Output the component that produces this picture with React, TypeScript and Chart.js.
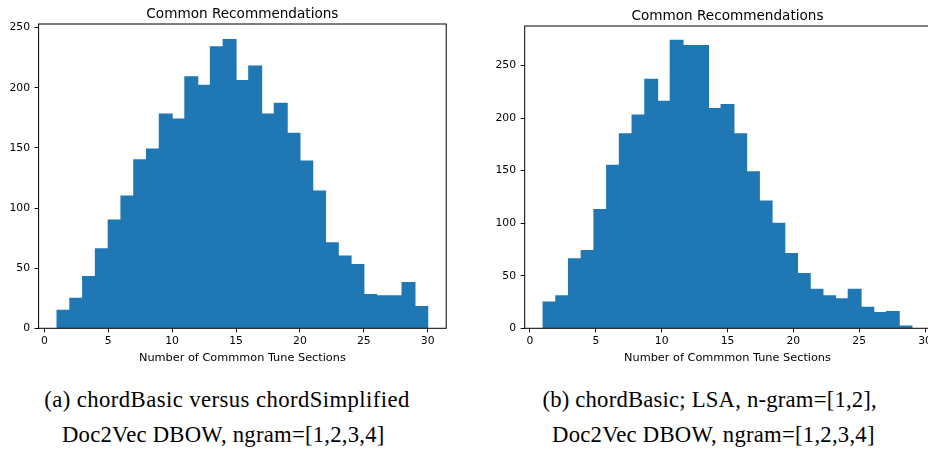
import React, { useEffect, useRef } from "react";
import { Chart, registerables } from "chart.js";

Chart.register(...registerables);

const chartTitle = "Common Recommendations";
const xAxisLabel = "Number of Commmon Tune Sections";
const xTickValues = [0, 5, 10, 15, 20, 25, 30];
const yTickValues = [0, 50, 100, 150, 200, 250];

// (a) 29 equal-width bins spanning 1..30
const binStartA = 1;
const binEndA = 30;
const countsA = [
  15, 25, 43, 66, 90, 110, 140, 149, 178, 174,
  209, 202, 234, 240, 206, 218, 178, 187, 162, 139,
  114, 71, 60, 53, 28, 27, 27, 38, 18,
];

// (b) 29 equal-width bins spanning 1..29
const binStartB = 1;
const binEndB = 29;
const countsB = [
  25, 31, 66, 74, 113, 155, 185, 203, 237, 216,
  274, 269, 269, 209, 213, 185, 149, 121, 100, 71,
  52, 37, 31, 28, 37, 20, 15, 16, 2,
];

const captionA = ["(a) chordBasic versus chordSimplified", "Doc2Vec DBOW, ngram=[1,2,3,4]"];
const captionB = ["(b) chordBasic; LSA, n-gram=[1,2],", "Doc2Vec DBOW, ngram=[1,2,3,4]"];

const BAR_COLOR = "#1f77b4";
const SANS = '"DejaVu Sans", sans-serif';
const CANVAS_H = 370;

type Rect = { l: number; t: number; r: number; b: number };

type HistProps = {
  counts: number[];
  binStart: number;
  binEnd: number;
  xMin: number;
  xMax: number;
  yMax: number;
  canvasLeft: number;
  canvasWidth: number;
  plot: Rect;
  titleOffset: number;
};

function Histogram(p: HistProps) {
  const ref = useRef<HTMLCanvasElement>(null);

  useEffect(() => {
    const canvas = ref.current;
    if (!canvas) return;
    const binWidth = (p.binEnd - p.binStart) / p.counts.length;
    const points = p.counts.map((c, i) => ({ x: p.binStart + (i + 0.5) * binWidth, y: c }));

    // axes box, title and x-axis caption
    const decorations = {
      id: "decorations",
      afterDraw(chart: any) {
        const { ctx, chartArea: a } = chart;
        ctx.save();
        ctx.strokeStyle = "#000";
        ctx.lineWidth = 1;
        ctx.strokeRect(a.left, a.top, a.right - a.left, a.bottom - a.top);
        ctx.fillStyle = "#000";
        ctx.textAlign = "center";
        ctx.textBaseline = "alphabetic";
        const cx = (a.left + a.right) / 2;
        ctx.font = `13.6px ${SANS}`;
        ctx.fillText(chartTitle, cx, a.top - p.titleOffset);
        ctx.font = `11.3px ${SANS}`;
        ctx.fillText(xAxisLabel, cx, a.bottom + 32.4);
        ctx.restore();
      },
    };

    const tickFont = { family: SANS, size: 10.8 };
    const chart = new Chart(canvas, {
      type: "bar",
      data: {
        datasets: [
          {
            data: points as any,
            backgroundColor: BAR_COLOR,
            borderWidth: 0,
            barPercentage: 1,
            categoryPercentage: 1,
            grouped: false,
            inflateAmount: 0.6,
          },
        ],
      },
      options: {
        responsive: false,
        animation: false,
        devicePixelRatio: 1,
        layout: {
          padding: {
            top: p.plot.t,
            right: p.canvasLeft + p.canvasWidth - p.plot.r,
            bottom: 0,
            left: 0,
          },
        },
        plugins: {
          legend: { display: false },
          tooltip: { enabled: false },
          title: { display: false },
        },
        scales: {
          x: {
            type: "linear",
            min: p.xMin,
            max: p.xMax,
            offset: false,
            grid: {
              display: true,
              offset: false,
              drawOnChartArea: false,
              drawTicks: true,
              tickLength: 4,
              tickColor: "#000",
              tickWidth: 1,
            },
            border: { display: false },
            ticks: {
              font: tickFont,
              color: "#000",
              padding: 2.7,
              maxRotation: 0,
              autoSkip: false,
              includeBounds: false,
            },
            afterBuildTicks: (scale: any) => {
              scale.ticks = xTickValues.map((v) => ({ value: v }));
            },
            afterFit: (scale: any) => {
              scale.height = CANVAS_H - p.plot.b;
            },
          },
          y: {
            type: "linear",
            min: 0,
            max: p.yMax,
            grid: {
              display: true,
              drawOnChartArea: false,
              drawTicks: true,
              tickLength: 4,
              tickColor: "#000",
              tickWidth: 1,
            },
            border: { display: false },
            ticks: {
              font: tickFont,
              color: "#000",
              padding: 4.6,
              includeBounds: false,
            },
            afterBuildTicks: (scale: any) => {
              scale.ticks = yTickValues.map((v) => ({ value: v }));
            },
            afterFit: (scale: any) => {
              scale.width = p.plot.l - p.canvasLeft;
            },
          },
        },
      } as any,
      plugins: [decorations],
    });

    return () => chart.destroy();
  }, []);

  return (
    <canvas
      ref={ref}
      width={p.canvasWidth}
      height={CANVAS_H}
      style={{ position: "absolute", left: p.canvasLeft, top: 0, width: p.canvasWidth, height: CANVAS_H }}
    />
  );
}

const CAPTION_SIZE = 22.7;

function CaptionLine({ text, center, baseline, spacing = 0 }: { text: string; center: number; baseline: number; spacing?: number }) {
  return (
    <div
      style={{
        position: "absolute",
        left: center - 300,
        width: 600,
        top: baseline - CAPTION_SIZE * 0.8375,
        textAlign: "center",
        whiteSpace: "nowrap",
        fontFamily: '"Liberation Serif", "Times New Roman", serif',
        fontSize: CAPTION_SIZE,
        lineHeight: 1,
        letterSpacing: spacing,
        color: "#000",
      }}
    >
      {text}
    </div>
  );
}

export default function App() {
  return (
    <div
      style={{
        position: "fixed",
        left: 0,
        top: 0,
        width: 928,
        height: 452,
        overflow: "hidden",
        background: "#fff",
      }}
    >
      <Histogram
        counts={countsA}
        binStart={binStartA}
        binEnd={binEndA}
        xMin={-0.45}
        xMax={31.45}
        yMax={253}
        canvasLeft={0}
        canvasWidth={460}
        plot={{ l: 38.6, t: 24, r: 446.2, b: 328.3 }}
        titleOffset={5.7}
      />
      <Histogram
        counts={countsB}
        binStart={binStartB}
        binEnd={binEndB}
        xMin={-0.4}
        xMax={30.4}
        yMax={287.7}
        canvasLeft={470}
        canvasWidth={475}
        plot={{ l: 524.7, t: 26, r: 930.3, b: 328.3 }}
        titleOffset={6}
      />
      <CaptionLine text={captionA[0]} center={227} baseline={408.3} spacing={0.43} />
      <CaptionLine text={captionA[1]} center={223.3} baseline={443.3} spacing={0.24} />
      <CaptionLine text={captionB[0]} center={709.7} baseline={408.3} spacing={0.2} />
      <CaptionLine text={captionB[1]} center={713.4} baseline={443.3} spacing={0.24} />
    </div>
  );
}
